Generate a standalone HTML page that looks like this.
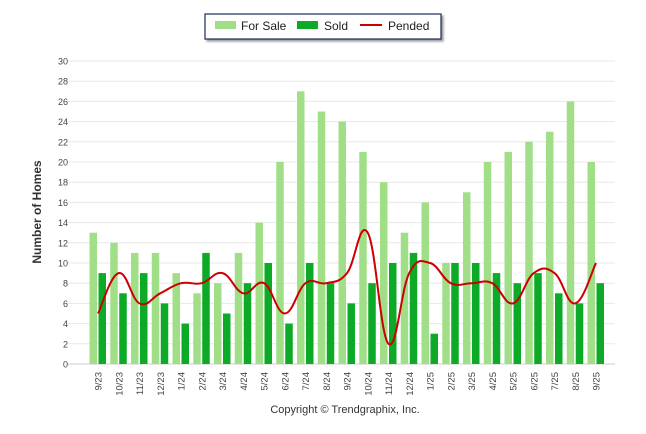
<!DOCTYPE html>
<html><head><meta charset="utf-8"><style>
body{margin:0;background:#fff;font-family:"Liberation Sans",sans-serif}
svg{display:block}
</style></head><body>
<svg id="chart" width="646" height="434">
<rect x="205" y="14" width="236" height="25" fill="#fff" stroke="#1f2a5c" stroke-width="1.2" style="filter:drop-shadow(2px 2px 1px #999)"/>
<g><rect x="215" y="21" width="21" height="8" fill="#a0df88"/><text x="241" y="30" font-size="12" fill="#222">For Sale</text></g>
<g><rect x="297" y="21" width="21" height="8" fill="#0daa27"/><text x="324" y="30" font-size="12" fill="#222">Sold</text></g>
<g><line x1="360" y1="25" x2="382" y2="25" stroke="#c00" stroke-width="2"/><text x="388" y="30" font-size="12" fill="#222">Pended</text></g>
<text transform="translate(41,212) rotate(-90)" text-anchor="middle" font-size="12" font-weight="bold" fill="#333">Number of Homes</text>
<text x="345" y="413" text-anchor="middle" font-size="11" fill="#333">Copyright © Trendgraphix, Inc.</text>
<g id="grid"></g><g id="bars"></g><g id="line"></g><g id="xl"></g>
</svg>
<script>
const categories=["9/23","10/23","11/23","12/23","1/24","2/24","3/24","4/24","5/24","6/24","7/24","8/24","9/24","10/24","11/24","12/24","1/25","2/25","3/25","4/25","5/25","6/25","7/25","8/25","9/25"];
const forSale=[13,12,11,11,9,7,8,11,14,20,27,25,24,21,18,13,16,10,17,20,21,22,23,26,20];
const sold=[9,7,9,6,4,11,5,8,10,4,10,8,6,8,10,11,3,10,10,9,8,9,7,6,8];
const pended=[5,9,6,7,8,8,9,7,8,5,8,8,9,13,2,9,10,8,8,8,6,9,9,6,10];
const yTicks=[0,2,4,6,8,10,12,14,16,18,20,22,24,26,28,30];
const NS="http://www.w3.org/2000/svg";
const y=v=>364-v*(303/30);
const x=i=>98+i*20.75;
function mk(t,a,p){const e=document.createElementNS(NS,t);for(const k in a)e.setAttribute(k,a[k]);p.appendChild(e);return e;}
const g=document.getElementById('grid');
yTicks.forEach(t=>{
 const l=mk('line',{x1:67,x2:615,y1:y(t),y2:y(t),stroke:t?'#e8e8e8':'#ccc','stroke-width':1},g);
 
 
 const tx=mk('text',{x:68,y:y(t)+3.5,'text-anchor':'end','font-size':9,fill:'#444'},g);tx.textContent=t;
 
 
});
const b=document.getElementById('bars');
categories.forEach((c,i)=>{
 const r1=mk('rect',{x:x(i)-8.5,y:y(forSale[i]),width:7.5,height:y(0)-y(forSale[i]),fill:'#a0df88'},b);
 
 
 const r2=mk('rect',{x:x(i)+0.5,y:y(sold[i]),width:7.5,height:y(0)-y(sold[i]),fill:'#0daa27'},b);
 
 
 const t=mk('text',{transform:`translate(${x(i)+3.5},372) rotate(-90)`,'text-anchor':'end','font-size':9.5,fill:'#444'},document.getElementById('xl'));t.textContent=c;
 
 
});
const pts=pended.map((v,i)=>[x(i),y(v)]);
let d=`M${pts[0][0]},${pts[0][1]}`;
const s=0.2;
for(let i=0;i<pts.length-1;i++){
 const p0=pts[Math.max(i-1,0)],p1=pts[i],p2=pts[i+1],p3=pts[Math.min(i+2,pts.length-1)];
 const c1=[p1[0]+(p2[0]-p0[0])*s,p1[1]+(p2[1]-p0[1])*s];
 const c2=[p2[0]-(p3[0]-p1[0])*s,p2[1]-(p3[1]-p1[1])*s];
 d+=` C${c1[0]},${c1[1]} ${c2[0]},${c2[1]} ${p2[0]},${p2[1]}`;
}
const pl=mk('path',{d:d,fill:'none',stroke:'#c00','stroke-width':2},document.getElementById('line'));


</script>
</body></html>
